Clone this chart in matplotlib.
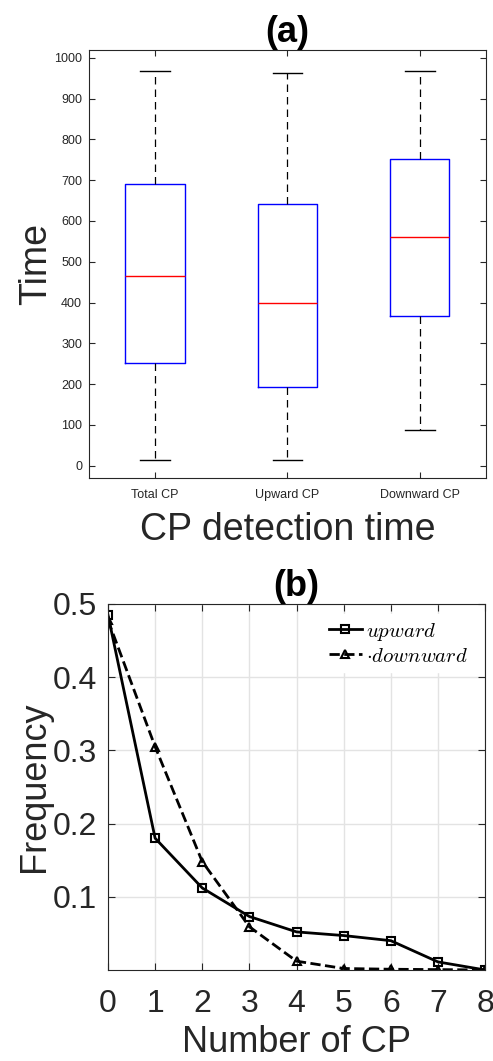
"""
Two-panel figure: (a) CP detection time box plots, (b) frequency of number of CP.
"""
import matplotlib
matplotlib.use("Agg")
import matplotlib.pyplot as plt
import numpy as np

plt.rcParams["font.family"] = ["Liberation Sans", "DejaVu Sans"]
plt.rcParams["mathtext.fontset"] = "cm"

# panel (a): box plot summaries
box_labels = ["Total CP", "Upward CP", "Downward CP"]
whisker_low = [15, 15, 87]
q1 = [252, 192, 368]
median = [465, 398, 560]
q3 = [690, 641, 751]
whisker_high = [968, 963, 968]

# panel (b): frequency vs number of CP
n_cp = [0, 1, 2, 3, 4, 5, 6, 7, 8]
freq_up = [0.485, 0.180, 0.112, 0.073, 0.052, 0.047, 0.040, 0.011, 0.000]
freq_down = [0.478, 0.305, 0.148, 0.059, 0.012, 0.002, 0.001, 0.0005, 0.000]

axis_col = "#262626"

fig = plt.figure(figsize=(4.93, 10.61), dpi=100)

# ---- (a)
ax1 = fig.add_axes([0.1805, 0.5495, 0.805, 0.4034])
stats = []
for i in range(len(box_labels)):
    stats.append(dict(label=box_labels[i], whislo=whisker_low[i], q1=q1[i],
                      med=median[i], q3=q3[i], whishi=whisker_high[i], fliers=[]))
ax1.bxp(stats, positions=[1, 2, 3], widths=0.45, showfliers=False,
        boxprops=dict(color="blue", lw=1),
        medianprops=dict(color="red", lw=1),
        whiskerprops=dict(color="black", lw=0.9, ls=(0, (6, 4))),
        capprops=dict(color="black", lw=1))
ax1.set_xlim(0.5, 3.5)
ax1.set_ylim(-30, 1019)
ax1.set_yticks(np.arange(0, 1001, 100))
ax1.tick_params(axis="both", direction="in", top=True, right=True,
                labelsize=9, colors=axis_col, length=4)
ax1.tick_params(axis="x", pad=8)
ax1.tick_params(axis="y", pad=5)
ax1.set_ylabel("Time", fontsize=27, color=axis_col, labelpad=0)
ax1.set_xlabel("CP detection time", fontsize=27, color=axis_col, labelpad=8)
ax1.set_title("(a)", fontsize=26, fontweight="bold", pad=6)
for s in ax1.spines.values():
    s.set_color(axis_col)

# ---- (b)
ax2 = fig.add_axes([0.219, 0.0858, 0.765, 0.345])
ax2.plot(n_cp, freq_up, "-s", color="black", lw=2, ms=6, mfc="none", mew=1.5,
         label="$upward$")
ax2.plot(n_cp, freq_down, "--^", color="black", lw=2, ms=6, mfc="none", mew=1.5,
         label="$\\cdot downward$")
ax2.set_xlim(0, 8)
ax2.set_ylim(0, 0.5)
ax2.set_xticks(n_cp)
ax2.set_yticks([0.1, 0.2, 0.3, 0.4, 0.5])
ax2.grid(True, color="#e3e3e3", lw=1)
ax2.set_axisbelow(True)
ax2.tick_params(axis="both", direction="in", top=True, right=True,
                labelsize=23, colors=axis_col, length=5)
ax2.tick_params(axis="x", pad=14)
ax2.tick_params(axis="y", pad=8)
ax2.set_xlabel("Number of CP", fontsize=26, color=axis_col, labelpad=4)
ax2.set_ylabel("Frequency", fontsize=26, color=axis_col, labelpad=0)
ax2.set_title("(b)", fontsize=26, fontweight="bold", pad=6)
for s in ax2.spines.values():
    s.set_color(axis_col)
leg = ax2.legend(loc="upper right", fontsize=15, frameon=True, fancybox=False,
                 edgecolor="white", framealpha=1, handlelength=1.6,
                 handletextpad=0.2, borderpad=0.3, labelspacing=0.2)

fig.savefig("out.png", dpi=100)
plt.close(fig)
